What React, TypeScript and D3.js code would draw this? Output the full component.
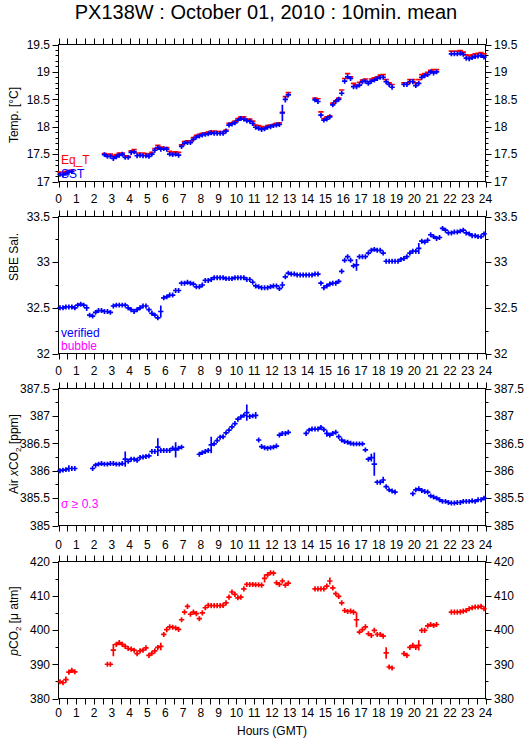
import React from 'react';
import * as d3 from 'd3';

const N = null;
type V = number | null;

// 10-minute means, 6 slots per hour (xx:05 .. xx:55), hours 0..23
const eqT: V[] = [
  17.17, 17.16, 17.18, 17.2, 17.21, N,
  N, N, N, N, N, N,
  N, N, N, 17.51, 17.49, 17.5,
  17.47, 17.49, 17.52, 17.52, 17.47, 17.46,
  17.56, 17.58, 17.52, 17.52, 17.52, 17.51,
  17.5, 17.53, 17.6, 17.66, 17.63, 17.62,
  17.62, 17.55, 17.53, 17.54, 17.53, 17.67,
  17.73, 17.74, 17.74, 17.8, 17.84, 17.86,
  17.88, 17.89, 17.9, 17.92, 17.92, 17.91,
  17.91, 17.91, 17.94, 18.06, 18.07, 18.1,
  18.15, 18.18, 18.18, 18.14, 18.14, 18.1,
  18.03, 18.02, 18.0, 17.99, 18.02, 18.03,
  18.04, 18.06, 18.07, 18.26, 18.55, 18.62,
  N, N, N, N, N, N,
  N, N, 18.52, 18.51, 18.27, 18.15,
  18.18, 18.2, 18.43, 18.47, 18.52, 18.67,
  18.88, 18.97, 18.91, 18.79, 18.76, 18.81,
  18.85, 18.87, 18.82, 18.87, 18.89, 18.91,
  18.94, 18.95, 18.86, 18.8, 18.77, N,
  N, N, 18.8, 18.8, 18.86, 18.86,
  18.8, 18.86, 18.95, 18.97, 18.99, 19.03,
  19.04, 19.04, N, N, N, N,
  19.38, 19.38, 19.38, 19.39, 19.36, 19.31,
  19.29, 19.31, 19.33, 19.34, 19.35, 19.33,
];

const sst: V[] = [
  17.13, 17.12, 17.15, 17.17, 17.18, N,
  N, N, N, N, N, N,
  N, N, N, 17.49, 17.46, 17.46,
  17.42, 17.45, 17.48, 17.5, 17.44, 17.44,
  17.53, 17.54, 17.47, 17.48, 17.47, 17.47,
  17.46, 17.5, 17.57, 17.62, 17.59, 17.6,
  17.59, 17.5, 17.49, 17.5, 17.48, 17.64,
  17.7, 17.71, 17.71, 17.77, 17.81, 17.83,
  17.85, 17.86, 17.87, 17.89, 17.88, 17.88,
  17.88, 17.88, 17.92, 18.03, 18.05, 18.07,
  18.12, 18.15, 18.14, 18.11, 18.1, 18.06,
  17.99, 17.97, 17.95, 17.96, 17.99, 18.0,
  18.02, 18.03, 18.04, 18.25, 18.5, 18.58,
  N, N, N, N, N, N,
  N, N, 18.49, 18.46, 18.21, 18.12,
  18.14, 18.18, 18.4, 18.46, 18.5, 18.61,
  18.83, 18.91, 18.88, 18.73, 18.73, 18.76,
  18.82, 18.83, 18.79, 18.83, 18.85, 18.88,
  18.9, 18.9, 18.82, 18.77, 18.72, N,
  N, N, 18.77, 18.77, 18.82, 18.82,
  18.75, 18.79, 18.9, 18.93, 18.95, 19.0,
  18.98, 19.0, N, N, N, N,
  19.33, 19.33, 19.33, 19.34, 19.32, 19.25,
  19.24, 19.26, 19.28, 19.29, 19.3, 19.27,
];

const salinity: V[] = [
  32.5, 32.5, 32.51, 32.51, 32.51, 32.5,
  32.53, 32.54, 32.53, 32.5, 32.42, 32.41,
  32.45, 32.47, 32.47, 32.46, 32.46, 32.45,
  32.52, 32.53, 32.53, 32.53, 32.53, 32.5,
  32.48, 32.46, 32.48, 32.5, 32.52, 32.52,
  32.48, 32.44, 32.42, 32.39, 32.46, 32.61,
  32.62, 32.64, 32.64, 32.69, 32.69, 32.77,
  32.77, 32.78, 32.77, 32.76, 32.73, 32.73,
  32.75, 32.8, 32.8, 32.81, 32.83, 32.83,
  32.83, 32.83, 32.82, 32.82, 32.82, 32.83,
  32.83, 32.83, 32.83, 32.81, 32.81, 32.78,
  32.74, 32.73, 32.72, 32.72, 32.72, 32.73,
  32.74, 32.74, 32.71, 32.75, 32.84, 32.88,
  32.87, 32.87, 32.86, 32.86, 32.86, 32.86,
  32.86, 32.86, 32.87, 32.87, 32.77, 32.72,
  32.74, 32.76, 32.77, 32.77, 32.79, 32.9,
  33.02, 33.06, 33.02, 32.96, 32.97, 33.06,
  33.06, 33.06, 33.1, 33.13, 33.14, 33.13,
  33.13, 33.1, 33.01, 33.01, 33.01, 33.01,
  33.01, 33.03, 33.04, 33.06, 33.1, 33.12,
  33.12, 33.15, 33.23, 33.22, 33.24, 33.3,
  33.28, 33.26, 33.27, 33.37, 33.35, 33.32,
  33.32, 33.33, 33.33, 33.34, 33.35, 33.32,
  33.31, 33.29, 33.29, 33.28, 33.28, 33.31,
];

const airXco2: V[] = [
  386.0, 386.01, 386.02, 386.04, 386.04, 386.04,
  N, N, N, N, N, 386.04,
  386.1, 386.12, 386.13, 386.12, 386.12, 386.13,
  386.13, 386.12, 386.12, 386.13, 386.21, 386.17,
  386.21, 386.21, 386.19, 386.24, 386.25, 386.26,
  386.27, 386.35, 386.35, 386.43, 386.37, 386.37,
  386.37, 386.37, 386.41, 386.38, 386.41, 386.43,
  N, N, N, N, N, 386.3,
  386.33, 386.35, 386.37, 386.47, 386.49, 386.55,
  386.61, 386.62, 386.69, 386.74, 386.8, 386.86,
  386.94, 386.98, 387.01, 387.06, 386.99, 387.0,
  387.01, 386.56, 386.44, 386.42, 386.41, 386.42,
  386.43, 386.45, 386.65, 386.68, 386.68, 386.7,
  N, N, N, N, N, 386.68,
  386.74, 386.76, 386.76, 386.76, 386.79, 386.75,
  386.68, 386.65, 386.68, 386.7, 386.62, 386.56,
  386.53, 386.52, 386.5, 386.49, 386.49, 386.49,
  386.49, 386.38, 386.21, 386.24, 386.12, 385.79,
  385.79, 385.83, 385.71, 385.65, 385.63, 385.61,
  N, N, N, N, N, 385.58,
  385.65, 385.67, 385.64, 385.62, 385.61, 385.54,
  385.52, 385.5, 385.47, 385.44, 385.44, 385.42,
  385.41, 385.41, 385.42, 385.42, 385.44, 385.44,
  385.44, 385.45, 385.44, 385.47, 385.47, 385.5,
];

const pco2: V[] = [
  384.9, 384.6, 385.5, 387.7, 388.2, 387.8,
  N, N, N, N, N, N,
  N, N, N, N, 390, 390,
  394.1, 395.8, 396.3, 395.8, 395.2, 394.6,
  394.4, 394.1, 393.1, 393.9, 394.1, 394.8,
  392.6, 393.2, 393.9, 394.9, 395.2, 398.7,
  400.1, 400.9, 400.8, 400.6, 400.2, 403,
  405.2, 406.9, 404.6, 405.2, 404.8, 403.3,
  405, 406.5, 407.2, 407.1, 407.1, 407.1,
  407.1, 407.2, 407.9, 409.6, 411.1, 410.4,
  409.4, 409.6, 412, 413.3, 413.3, 413.3,
  413.2, 413.2, 413.1, 415.1, 416.1, 416.7,
  416.6, 413.8, 413.3, 414.3, 413.1, 413.7,
  N, N, N, N, N, N,
  N, N, 412, 412, 412, 412,
  412.8, 414.3, 412.3, 410.6, 409.8, 407.9,
  405.7, 405.4, 405.5, 405.2, 403, 399.4,
  400.1, 400.9, 398.9, 398.4, 399.9, 398.7,
  398.7, 398.2, 393.3, 389.2, 388.9, N,
  N, N, 393.1, 392.6, 394.9, 395.5,
  394.9, 395.5, 399.9, 399.9, 401.2, 401.6,
  401.3, 401.6, N, N, N, N,
  405.2, 405.2, 405.2, 405.3, 405.5, 405.7,
  406.2, 406.5, 406.7, 406.7, 406.9, 406.2,
];

// standard deviations: typical value per series + notably large ones [slot, sd]
const eqTSdTypical = 0.005;
const sstSdTypical = 0.045;
const sstSdLarge: [number, number][] = [[75, 0.15], [76, 0.06]];
const salSdTypical = 0.027;
const salSdLarge: [number, number][] = [[9, 0.035], [34, 0.065], [75, 0.035], [100, 0.065], [121, 0.06]];
const xco2SdTypical = 0.045;
const xco2SdLarge: [number, number][] = [
  [3, 0.06], [22, 0.14], [33, 0.16], [39, 0.14], [51, 0.15], [63, 0.15],
  [66, 0.06], [90, 0.06], [105, 0.07], [106, 0.21], [109, 0.06],
];
const pco2SdTypical = 0.75;
const pco2SdLarge: [number, number][] = [
  [2, 0.9], [18, 1.8], [34, 1.1], [69, 1.2], [91, 1.0], [100, 2.2], [110, 1.7], [121, 1.5],
];

const hourTicks = d3.range(0, 24.01, 0.5);
const hourLabels = d3.range(0, 25);

const FONT = "'Liberation Sans', Arial, Helvetica, sans-serif";
const X0 = 58.5;
const X1 = 485.5;
const PH = 137;
const x = d3.scaleLinear().domain([0, 24]).range([X0, X1]);

type PanelCfg = {
  top: number;
  domain: [number, number];
  major: number;
  minor: number;
  labelsTop: boolean;
  labelsBottom: boolean;
};

function Panel({ cfg }: { cfg: PanelCfg }) {
  const y = d3.scaleLinear().domain(cfg.domain).range([cfg.top + PH, cfg.top]);
  const n = Math.round((cfg.domain[1] - cfg.domain[0]) / cfg.minor);
  const yt = d3.range(0, n + 1).map((i) => cfg.domain[0] + i * cfg.minor);
  const isMajor = (v: number) => Math.abs(v / cfg.major - Math.round(v / cfg.major)) < 1e-6;
  const fmt = (v: number) => String(+v.toFixed(2));
  const bottom = cfg.top + PH;
  return (
    <g>
      <rect x={X0} y={cfg.top} width={X1 - X0} height={PH} fill="none" stroke="#000" strokeWidth={1} />
      {hourTicks.map((h) => (
        <g key={'xt' + h}>
          <line x1={Math.round(x(h)) + 0.5} x2={Math.round(x(h)) + 0.5} y1={cfg.top} y2={cfg.top - 6} stroke="#000" />
          <line x1={Math.round(x(h)) + 0.5} x2={Math.round(x(h)) + 0.5} y1={bottom} y2={bottom + 6} stroke="#000" />
        </g>
      ))}
      {yt.map((v) => {
        const yy = Math.round(y(v)) + 0.5;
        const len = isMajor(v) ? 6 : 3;
        return (
          <g key={'yt' + v}>
            <line x1={X0} x2={X0 - len} y1={yy} y2={yy} stroke="#000" />
            <line x1={X1} x2={X1 + len} y1={yy} y2={yy} stroke="#000" />
          </g>
        );
      })}
      {yt.filter(isMajor).map((v) => (
        <g key={'yl' + v} fontFamily={FONT} fontSize={12}>
          <text x={50} y={y(v) + 4.3} textAnchor="end">{fmt(v)}</text>
          <text x={494} y={y(v) + 4.3} textAnchor="start">{fmt(v)}</text>
        </g>
      ))}
      {cfg.labelsBottom &&
        hourLabels.map((h) => (
          <text key={'xb' + h} x={x(h)} y={bottom + (cfg.labelsTop ? 18 : 21.5)} textAnchor="middle" fontFamily={FONT} fontSize={12}>
            {h}
          </text>
        ))}
      {cfg.labelsTop &&
        hourLabels.map((h) => (
          <text key={'xtp' + h} x={x(h)} y={cfg.top - 12.5} textAnchor="middle" fontFamily={FONT} fontSize={12}>
            {h}
          </text>
        ))}
    </g>
  );
}

function crossPath(
  vals: V[],
  y: d3.ScaleLinear<number, number>,
  sdTypical: number,
  sdLarge: [number, number][],
) {
  const big = new Map(sdLarge);
  const hw = 9 / 60;
  let d = '';
  vals.forEach((v, i) => {
    if (v === null) return;
    const t = (i + 0.5) / 6;
    const sd = big.get(i) ?? sdTypical;
    const cx = x(t);
    const cy = y(v);
    d += `M${x(t - hw)},${cy}H${x(t + hw)}`;
    const y1 = y(v + sd);
    const y2 = y(v - sd);
    if (Math.abs(y2 - y1) > 0.8) d += `M${cx},${y1}V${y2}`;
  });
  return d;
}

const panels: PanelCfg[] = [
  { top: 44.5, domain: [17, 19.5], major: 0.5, minor: 0.1, labelsTop: false, labelsBottom: true },
  { top: 216.5, domain: [32, 33.5], major: 0.5, minor: 0.25, labelsTop: false, labelsBottom: true },
  { top: 388.5, domain: [385, 387.5], major: 0.5, minor: 0.25, labelsTop: false, labelsBottom: false },
  { top: 561.5, domain: [380, 420], major: 10, minor: 5, labelsTop: true, labelsBottom: true },
];

const yOf = (p: PanelCfg) => d3.scaleLinear().domain(p.domain).range([p.top + PH, p.top]);

export default function App() {
  const y1 = yOf(panels[0]);
  const y2 = yOf(panels[1]);
  const y3 = yOf(panels[2]);
  const y4 = yOf(panels[3]);
  const sw = 1.7;
  return (
    <svg
      width={529}
      height={739}
      viewBox="0 0 529 739"
      style={{ position: 'absolute', left: 0, top: 0, background: '#fff' }}
      fontFamily={FONT}
    >
      <rect x={0} y={0} width={529} height={739} fill="#fff" />
      <text x={266} y={18.5} textAnchor="middle" fontSize={20}>
        PX138W : October 01, 2010 : 10min. mean
      </text>
      {panels.map((p, i) => (
        <Panel key={i} cfg={p} />
      ))}

      {/* panel 1: temperatures */}
      <path d={crossPath(eqT, y1, eqTSdTypical, [])} stroke="#ff0000" strokeWidth={sw} fill="none" />
      <path d={crossPath(sst, y1, sstSdTypical, sstSdLarge)} stroke="#0000ff" strokeWidth={sw} fill="none" />
      <text x={61} y={164} fontSize={12} fill="#ff0000">Eq_T</text>
      <text x={61} y={178} fontSize={12} fill="#0000ff">SST</text>
      <text transform="translate(18,115) rotate(-90)" textAnchor="middle" fontSize={12}>Temp. [°C]</text>

      {/* panel 2: salinity */}
      <path d={crossPath(salinity, y2, salSdTypical, salSdLarge)} stroke="#0000ff" strokeWidth={sw} fill="none" />
      <text x={61} y={337} fontSize={12} fill="#0000ff">verified</text>
      <text x={61} y={350} fontSize={12} fill="#ff00ff">bubble</text>
      <text transform="translate(18,257) rotate(-90)" textAnchor="middle" fontSize={12}>SBE Sal.</text>

      {/* panel 3: air xCO2 */}
      <path d={crossPath(airXco2, y3, xco2SdTypical, xco2SdLarge)} stroke="#0000ff" strokeWidth={sw} fill="none" />
      <text x={61} y={508} fontSize={12} fill="#ff00ff">σ ≥ 0.3</text>
      <text transform="translate(18,454) rotate(-90)" textAnchor="middle" fontSize={12}>
        Air <tspan fontStyle="italic">x</tspan>CO<tspan fontSize={8} dy={3}>2</tspan><tspan dy={-3}> [ppm]</tspan>
      </text>

      {/* panel 4: pCO2 */}
      <path d={crossPath(pco2, y4, pco2SdTypical, pco2SdLarge)} stroke="#ff0000" strokeWidth={sw} fill="none" />
      <text transform="translate(18,621) rotate(-90)" textAnchor="middle" fontSize={12}>
        <tspan fontStyle="italic">p</tspan>CO<tspan fontSize={8} dy={3}>2</tspan><tspan dy={-3}> [μ atm]</tspan>
      </text>

      <text x={272} y={735} textAnchor="middle" fontSize={12}>Hours (GMT)</text>
    </svg>
  );
}
